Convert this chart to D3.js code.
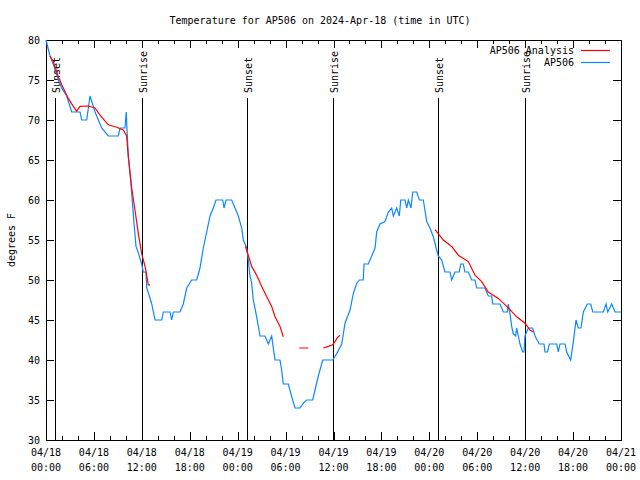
<!DOCTYPE html>
<html>
<head>
<meta charset="utf-8">
<script src="https://cdn.jsdelivr.net/npm/d3@7"></script>
<style>
  body { margin: 0; background: #fff; }
  svg { display: block; }
  text { font-family: "DejaVu Sans Mono", "Liberation Mono", monospace; font-size: 10px; fill: #000; }
</style>
</head>
<body>
<svg id="chart" width="640" height="480"></svg>
<script>
// ---- Data (hours since 2024-04-18 00:00 UTC) ----
const obsHours = [0,0.5,0.91,1.54,1.97,2.59,3.22,4.26,4.47,5.1,5.51,6.14,6.97,7.8,9.05,9.27,9.89,10.05,10.18,10.31,10.6,10.86,11.02,11.27,11.56,11.98,12.18,12.52,12.61,12.94,13.24,13.65,14.49,14.69,15.53,15.74,15.94,16.78,17.19,17.62,18.24,18.87,19.28,19.7,20.12,20.54,20.95,21.29,22.13,22.29,22.54,23.25,23.67,24.08,24.51,24.71,25.13,25.33,25.54,25.75,25.96,26.38,26.8,27.42,27.84,28.26,28.46,28.68,29.3,29.51,29.71,30.34,30.77,31.18,31.81,32.22,32.64,33.4,33.68,34.1,34.65,35.9,36.4,37.03,37.44,38.07,38.48,38.91,39.23,39.73,39.82,40.36,40.78,41.2,41.41,41.82,42.45,42.86,43.29,43.49,43.91,44.24,44.42,44.95,45.17,45.37,45.7,45.92,46.42,46.75,47.25,47.67,48.08,48.5,48.92,49.12,49.55,49.96,50.59,50.8,51.21,51.75,51.93,52.25,52.46,52.88,53.31,53.72,53.93,54.97,55.38,55.81,55.93,56.85,57.26,57.76,57.89,58.1,58.31,58.51,58.81,58.94,59.14,59.35,59.69,59.85,59.98,60.39,60.94,61.23,61.77,62.36,62.48,62.8,63.02,63.95,64.15,64.36,64.99,65.2,65.7,66.03,66.37,66.65,66.99,67.28,67.79,68.21,68.46,69.79,70.13,70.34,70.84,71.25,72];
const obsTemps = [80,78,77,75,74,73,71,71,70,70,73,71,69,68,68,69,69,71,68,65.4,62.5,59.2,57.1,54.2,53.4,52,51,51,49,48,47,45,45,46,46,45,46,46,47,49,50,50,51.5,54,56,58,59,60,60,59,60,60,59,58,56.5,55,54,52.5,50.5,49.6,47.5,45.4,43,43,42,43,41.5,40,40,38.75,37,37,35.4,34,34,34.6,35,35,36.25,38,40,40,40.8,42,44.6,46.25,48.3,49.6,50,50,52,52,53,54,56,57,57.3,58.5,59,58,59,58,60,60,59,60,59,61,61,60,60,57.3,56.5,55.4,53.75,53,52.5,51,51,50,51,51,52,52,51,51,50,50,49,49,48,48,47,47,46,46,47,45.8,44.2,43.3,43,44,43,42,41,41,43,44,44,43,42,42,41,41,42,42,41,42,42,41,40,42.3,45,44,44,46,47,47,46,46,47,46,47,46,46];

// Analysis series: null marks a gap
const anaHours = [0.5,0.91,1.54,1.97,2.79,3.42,3.84,4.26,5.3,6.14,6.76,7.8,8.85,9.68,10.1,10.31,10.73,11.14,11.56,11.98,12.4,12.68,12.81,13.02,
  13.1,
  24.95,25.13,25.75,26.38,27.01,27.64,28.26,28.68,29.3,29.71,
  29.8,
  31.72,32.85,
  33.0,
  34.72,35.35,35.9,36.19,36.48,36.82,
  37.0,
  48.71,49.12,49.75,50.8,51.63,52.88,53.72,54.56,55.38,56.64,57.69,58.94,59.98,60.61,61.02];
const anaTemps = [78,77.3,75.4,74.4,72.7,71.7,71.1,71.7,71.75,71.5,70.6,69.4,69.1,68.75,68,65.4,61.5,58.75,55.8,53.3,51.7,50.2,49.4,49.4,
  null,
  54.2,53.75,51.7,50.6,49.2,47.9,46.7,45.4,44.2,42.9,
  null,
  41.5,41.5,
  null,
  41.5,41.7,41.9,42.3,42.8,43.1,
  null,
  56.3,55.8,55,54.2,53.1,52.3,50.6,49.8,48.5,47.7,46.7,45.4,44.6,43.75,43.5];

const sunHours = [1.13, 11.98, 25.13, 35.88, 49.12, 59.98];
const sunLabels = ["Sunset", "Sunrise", "Sunset", "Sunrise", "Sunset", "Sunrise"];

const yTicks = [30, 35, 40, 45, 50, 55, 60, 65, 70, 75, 80];
const titleText = "Temperature for AP506 on 2024-Apr-18 (time in UTC)";
const yLabel = "degrees F";
const seriesNames = ["AP506 Analysis", "AP506"];
const seriesColors = ["#ff0000", "#0a88ff"];

// ---- Layout ----
const pL = 46, pR = 621, pT = 40, pB = 440;
const base = Date.UTC(2024, 3, 18, 0, 0);
const toDate = h => new Date(base + h * 3600000);

const x = d3.scaleUtc().domain([toDate(0), toDate(72)]).range([pL, pR]);
const y = d3.scaleLinear().domain([30, 80]).range([pB, pT]);

const svg = d3.select("#chart");

// title
svg.append("text").attr("x", 320).attr("y", 24).attr("text-anchor", "middle").text(titleText);

// y label
svg.append("text").attr("transform", "translate(15,240) rotate(-90)")
  .attr("text-anchor", "middle").text(yLabel);

const majorX = d3.range(0, 73, 6).map(toDate);
const minorX = d3.range(0, 73, 2).filter(h => h % 6 !== 0).map(toDate);

const g = svg.append("g");

const fmt1 = d3.utcFormat("%m/%d"), fmt2 = d3.utcFormat("%H:%M");
const bottomAxis = d3.axisBottom(x).tickValues(majorX).tickSizeInner(-8).tickSizeOuter(0).tickFormat("");
const bottomMinor = d3.axisBottom(x).tickValues(minorX).tickSizeInner(-4).tickSizeOuter(0).tickFormat("");
const topAxis = d3.axisTop(x).tickValues(majorX).tickSizeInner(-8).tickSizeOuter(0).tickFormat("");
const topMinor = d3.axisTop(x).tickValues(minorX).tickSizeInner(-4).tickSizeOuter(0).tickFormat("");
const leftAxis = d3.axisLeft(y).tickValues(yTicks).tickSizeInner(-8).tickSizeOuter(0).tickFormat("");
const rightAxis = d3.axisRight(y).tickValues(yTicks).tickSizeInner(-8).tickSizeOuter(0).tickFormat("");

function styleAxis(sel) {
  sel.select(".domain").remove();
  sel.selectAll("line").attr("stroke", "#000").attr("shape-rendering", "crispEdges");
}
g.append("g").attr("transform", `translate(0,${pB})`).call(bottomAxis).call(styleAxis);
g.append("g").attr("transform", `translate(0,${pB})`).call(bottomMinor).call(styleAxis);
g.append("g").attr("transform", `translate(0,${pT})`).call(topAxis).call(styleAxis);
g.append("g").attr("transform", `translate(0,${pT})`).call(topMinor).call(styleAxis);
g.append("g").attr("transform", `translate(${pL},0)`).call(leftAxis).call(styleAxis);
g.append("g").attr("transform", `translate(${pR},0)`).call(rightAxis).call(styleAxis);

// tick labels
const xl = svg.append("g");
majorX.forEach(d => {
  xl.append("text").attr("x", x(d)).attr("y", 456).attr("text-anchor", "middle").text(fmt1(d));
  xl.append("text").attr("x", x(d)).attr("y", 471).attr("text-anchor", "middle").text(fmt2(d));
});
yTicks.forEach(v => {
  svg.append("text").attr("x", 40).attr("y", y(v) + 4).attr("text-anchor", "end").text(v);
});

// frame
svg.append("rect").attr("x", pL + 0.5).attr("y", pT + 0.5)
  .attr("width", pR - pL).attr("height", pB - pT)
  .attr("fill", "none").attr("stroke", "#000").attr("shape-rendering", "crispEdges");

// sun lines
sunHours.forEach((h, i) => {
  const xx = Math.round(x(toDate(h))) + 0.5;
  svg.append("line").attr("x1", xx).attr("x2", xx).attr("y1", 98).attr("y2", pB)
    .attr("stroke", "#000").attr("stroke-width", 1).attr("shape-rendering", "crispEdges");
  svg.append("text").attr("transform", `translate(${xx + 4},93) rotate(-90)`)
    .attr("text-anchor", "start").text(sunLabels[i]);
});

// series
const obs = obsHours.map((h, i) => ({ t: toDate(h), v: obsTemps[i] }));
const ana = anaHours.map((h, i) => ({ t: toDate(h), v: anaTemps[i] }));
const line = d3.line().defined(d => d.v !== null).x(d => x(d.t)).y(d => y(d.v));

svg.append("path").datum(obs).attr("d", line).attr("fill", "none")
  .attr("stroke", seriesColors[1]).attr("stroke-width", 1.2);
svg.append("path").datum(ana).attr("d", line).attr("fill", "none")
  .attr("stroke", seriesColors[0]).attr("stroke-width", 1.2);

// legend
seriesNames.forEach((name, i) => {
  const ly = 50.5 + i * 12;
  svg.append("text").attr("x", 574).attr("y", ly + 3.5).attr("text-anchor", "end").text(name);
  svg.append("line").attr("x1", 581).attr("x2", 610).attr("y1", ly).attr("y2", ly)
    .attr("stroke", seriesColors[i]).attr("stroke-width", 1.2);
});
</script>
</body>
</html>
